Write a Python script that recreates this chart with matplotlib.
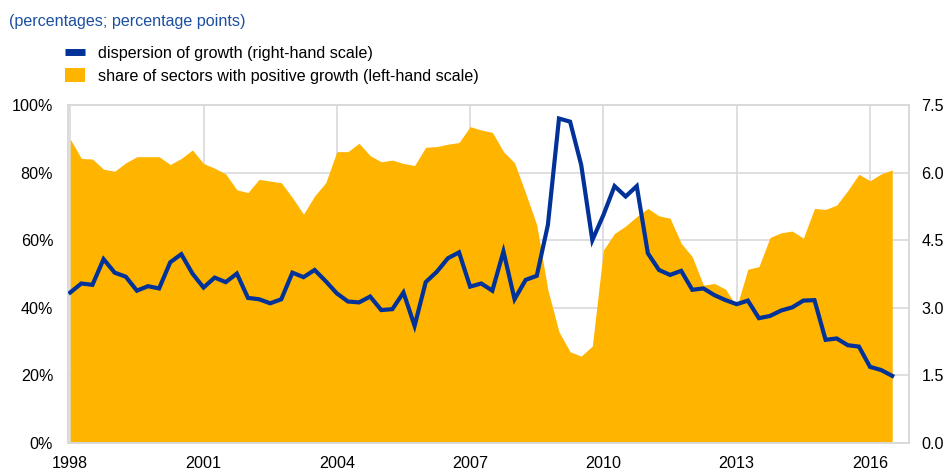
import numpy as np
import matplotlib.pyplot as plt
from matplotlib.patches import Patch
from matplotlib.lines import Line2D

plt.rcParams['font.family'] = ['Liberation Sans', 'DejaVu Sans']

# quarterly data, 1998 Q1 - 2016 Q3
start_year = 1998
share_positive = [
    89.9, 84.2, 84.0, 81.0, 80.4, 82.9, 84.7, 84.7, 84.7, 82.4,
    84.2, 86.7, 82.7, 81.3, 79.6, 74.9, 74.1, 78.0, 77.5, 77.0,
    72.6, 67.7, 73.1, 77.0, 86.2, 86.2, 88.7, 85.0, 83.2, 83.7,
    82.7, 82.1, 87.5, 87.7, 88.4, 88.9, 93.6, 92.6, 91.9, 86.2,
    82.9, 73.9, 64.5, 45.3, 32.9, 27.0, 25.7, 28.7, 57.1, 62.0,
    64.2, 67.0, 69.4, 67.2, 66.5, 59.1, 55.1, 46.7, 47.2, 45.5,
    40.3, 51.4, 52.2, 60.8, 62.2, 62.7, 60.6, 69.4, 69.1, 70.4,
    74.7, 79.5, 77.6, 79.6, 80.8,
]
dispersion = [
    3.34, 3.54, 3.51, 4.08, 3.78, 3.69, 3.38, 3.48, 3.43, 4.01,
    4.19, 3.76, 3.45, 3.67, 3.57, 3.76, 3.22, 3.19, 3.10, 3.19,
    3.78, 3.68, 3.84, 3.59, 3.32, 3.14, 3.12, 3.25, 2.95, 2.97,
    3.34, 2.60, 3.57, 3.80, 4.10, 4.23, 3.47, 3.54, 3.38, 4.25,
    3.19, 3.62, 3.71, 4.84, 7.20, 7.13, 6.17, 4.50, 5.06, 5.70,
    5.47, 5.70, 4.21, 3.84, 3.73, 3.82, 3.40, 3.43, 3.28, 3.17,
    3.08, 3.16, 2.77, 2.82, 2.94, 3.01, 3.16, 3.17, 2.29, 2.32,
    2.17, 2.14, 1.69, 1.62, 1.49,
]
year_ticks = [1998, 2001, 2004, 2007, 2010, 2013, 2016]
left_ticks = [0, 20, 40, 60, 80, 100]
right_ticks = [0.0, 1.5, 3.0, 4.5, 6.0, 7.5]

x = start_year + np.arange(len(share_positive)) / 4

blue = '#003299'
orange = '#ffb400'
grid_col = '#d9d9d9'
fs = 11.6

fig = plt.figure(figsize=(9.47, 4.70), dpi=100)
ax = fig.add_axes([0.0723, 0.0574, 0.8877, 0.7192])
ax2 = ax.twinx()

ax.fill_between(x, 0, share_positive, color=orange, lw=0, zorder=2)
ax2.plot(x, dispersion, color=blue, lw=3.0, solid_joinstyle='miter', zorder=3)

ax.set_xlim(1997.96, 2016.88)
ax.set_ylim(0, 100)
ax2.set_ylim(0, 7.5)

ax.set_xticks(year_ticks)
ax.set_xticklabels([str(y) for y in year_ticks], fontsize=fs)
ax.set_yticks(left_ticks)
ax.set_yticklabels([f'{v}%' for v in left_ticks], fontsize=fs)
ax2.set_yticks(right_ticks)
ax2.set_yticklabels([f'{v:.1f}' for v in right_ticks], fontsize=fs)

ax.set_axisbelow(True)
ax.grid(True, color=grid_col, lw=1.2, zorder=0)
for a in (ax, ax2):
    a.tick_params(length=0, colors='black')
    for s in a.spines.values():
        s.set_color(grid_col)
        s.set_linewidth(1.2)
ax.tick_params(axis='y', pad=11)
ax.tick_params(axis='x', pad=9)
ax2.tick_params(axis='y', pad=9)

fig.text(0.009, 0.955, '(percentages; percentage points)', color='#1d4fa0',
         fontsize=fs, va='center', ha='left')

handles = [
    Line2D([0], [0], color=blue, lw=5, solid_capstyle='butt'),
    Patch(facecolor=orange, edgecolor='none'),
]
labels = ['dispersion of growth (right-hand scale)',
          'share of sectors with positive growth (left-hand scale)']
fig.legend(handles, labels, loc='upper left', bbox_to_anchor=(0.062, 0.916),
           frameon=False, fontsize=fs, handlelength=1.25, handleheight=0.9,
           handletextpad=0.8, labelspacing=0.45, borderaxespad=0)

fig.savefig('out.png', dpi=100)
